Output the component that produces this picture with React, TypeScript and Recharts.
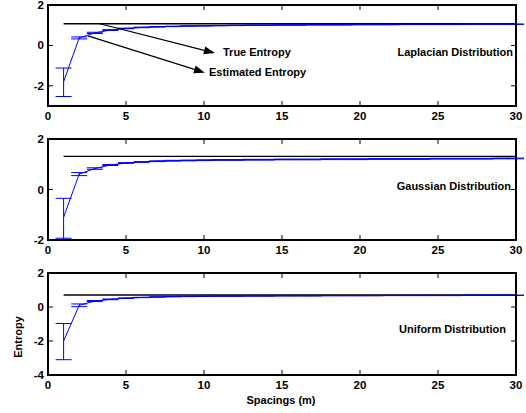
import React from 'react';
import { LineChart, Line, XAxis, YAxis, ErrorBar, ReferenceLine } from 'recharts';

const spacings = [1, 2, 3, 4, 5, 6, 7, 8, 9, 10, 11, 12, 13, 14, 15, 16, 17, 18, 19, 20, 21, 22, 23, 24, 25, 26, 27, 28, 29, 30];
const xTicks = [0, 5, 10, 15, 20, 25, 30];

// Laplacian
const lapTrue = 1.07;
const lapEst = [-1.8, 0.37, 0.62, 0.76, 0.84, 0.89, 0.92, 0.94, 0.96, 0.97, 0.98, 0.99, 1.0, 1.0, 1.01, 1.01, 1.02, 1.02, 1.02, 1.03, 1.03, 1.03, 1.04, 1.04, 1.04, 1.04, 1.05, 1.05, 1.05, 1.05];
const lapErrLow = [0.73, 0.05, 0.03, 0.02, 0.015, 0.015, 0.01, 0.01, 0.01, 0.01, 0.01, 0.01, 0.01, 0.01, 0.01, 0.01, 0.01, 0.01, 0.01, 0.01, 0.01, 0.01, 0.01, 0.01, 0.01, 0.01, 0.01, 0.01, 0.01, 0.01];
const lapErrHigh = [0.68, 0.05, 0.03, 0.02, 0.015, 0.015, 0.01, 0.01, 0.01, 0.01, 0.01, 0.01, 0.01, 0.01, 0.01, 0.01, 0.01, 0.01, 0.01, 0.01, 0.01, 0.01, 0.01, 0.01, 0.01, 0.01, 0.01, 0.01, 0.01, 0.01];

// Gaussian
const gauTrue = 1.31;
const gauEst = [-1.1, 0.61, 0.83, 0.97, 1.05, 1.09, 1.12, 1.14, 1.15, 1.16, 1.17, 1.17, 1.18, 1.18, 1.19, 1.19, 1.19, 1.2, 1.2, 1.2, 1.21, 1.21, 1.21, 1.21, 1.22, 1.22, 1.22, 1.22, 1.23, 1.23];
const gauErrLow = [0.83, 0.06, 0.03, 0.02, 0.015, 0.015, 0.015, 0.015, 0.015, 0.015, 0.015, 0.015, 0.015, 0.015, 0.015, 0.015, 0.015, 0.015, 0.015, 0.015, 0.015, 0.015, 0.015, 0.015, 0.015, 0.015, 0.015, 0.015, 0.015, 0.015];
const gauErrHigh = [0.75, 0.06, 0.03, 0.02, 0.015, 0.015, 0.015, 0.015, 0.015, 0.015, 0.015, 0.015, 0.015, 0.015, 0.015, 0.015, 0.015, 0.015, 0.015, 0.015, 0.015, 0.015, 0.015, 0.015, 0.015, 0.015, 0.015, 0.015, 0.015, 0.015];

// Uniform
const uniTrue = 0.71;
const uniEst = [-2.0, 0.1, 0.35, 0.45, 0.52, 0.56, 0.59, 0.61, 0.62, 0.63, 0.64, 0.64, 0.65, 0.65, 0.66, 0.66, 0.66, 0.67, 0.67, 0.67, 0.67, 0.68, 0.68, 0.68, 0.68, 0.68, 0.69, 0.69, 0.69, 0.69];
const uniErrLow = [1.1, 0.08, 0.03, 0.02, 0.015, 0.01, 0.01, 0.01, 0.01, 0.01, 0.01, 0.01, 0.01, 0.01, 0.01, 0.01, 0.01, 0.01, 0.01, 0.01, 0.01, 0.01, 0.01, 0.01, 0.01, 0.01, 0.01, 0.01, 0.01, 0.01];
const uniErrHigh = [1.03, 0.08, 0.03, 0.02, 0.015, 0.01, 0.01, 0.01, 0.01, 0.01, 0.01, 0.01, 0.01, 0.01, 0.01, 0.01, 0.01, 0.01, 0.01, 0.01, 0.01, 0.01, 0.01, 0.01, 0.01, 0.01, 0.01, 0.01, 0.01, 0.01];

const build = (truth: number, est: number[], lo: number[], hi: number[]) =>
  spacings.map((m, i) => ({ m, truth, est: est[i], err: [lo[i], hi[i]] }));

const FONT = '"Liberation Sans", Arial, sans-serif';
const BLUE = '#0000ff';
const axisLine = { stroke: '#000', strokeWidth: 2 };
const tickLine = { stroke: '#000', strokeWidth: 1 };
const tickFont = { fill: '#000', fontSize: 11.5, fontWeight: 700, fontFamily: FONT };
const PLOT_LEFT = 48;
const PLOT_W = 468;
const TICK_PX = 5;

const Arrow = (props: any) => {
  const { x1, y1, x2, y2 } = props;
  const a = Math.atan2(y2 - y1, x2 - x1);
  const len = 11;
  const w = 4;
  const bx = x2 - len * Math.cos(a);
  const by = y2 - len * Math.sin(a);
  const px = -Math.sin(a) * w;
  const py = Math.cos(a) * w;
  return (
    <g>
      <line x1={x1} y1={y1} x2={bx} y2={by} stroke="#000" strokeWidth={1.2} />
      <polygon points={`${x2},${y2} ${bx + px},${by + py} ${bx - px},${by - py}`} fill="#000" />
    </g>
  );
};

// frame of the plot area, drawn from the segment's two corners
const Frame = (props: any) => {
  const { x1, y1, x2, y2 } = props;
  return (
    <rect
      x={Math.min(x1, x2)}
      y={Math.min(y1, y2)}
      width={Math.abs(x2 - x1)}
      height={Math.abs(y2 - y1)}
      fill="none"
      stroke="#000"
      strokeWidth={2}
    />
  );
};

type PanelProps = {
  top: number;
  plotHeight: number;
  data: any[];
  domain: [number, number];
  yTicks: number[];
  arrows?: boolean;
};

function Panel({ top, plotHeight, data, domain, yTicks, arrows }: PanelProps) {
  const [yMin, yMax] = domain;
  const dy = ((yMax - yMin) * TICK_PX) / plotHeight;
  const dx = (30 * TICK_PX) / PLOT_W;
  return (
    <>
      <div style={{ position: 'absolute', left: 0, top: top - 5 }}>
        <LineChart width={526} height={plotHeight + 5 + 26} data={data} margin={{ top: 5, right: 10, bottom: 0, left: 8 }}>
          <XAxis dataKey="m" type="number" domain={[0, 30]} ticks={xTicks} height={26} tickSize={-5} tickMargin={11} axisLine={axisLine} tickLine={tickLine} tick={tickFont} interval={0} />
          <YAxis type="number" domain={domain} ticks={yTicks} width={40} tickSize={-5} tickMargin={9} axisLine={axisLine} tickLine={tickLine} tick={tickFont} interval={0} />
          <ReferenceLine segment={[{ x: 0, y: yMax }, { x: 30, y: yMin }]} shape={Frame} ifOverflow="visible" />
          {/* inward ticks on the top and right edges */}
          {xTicks.slice(1, -1).map((t) => (
            <ReferenceLine key={`tx${t}`} segment={[{ x: t, y: yMax }, { x: t, y: yMax - dy }]} stroke="#000" strokeWidth={1} ifOverflow="visible" />
          ))}
          {yTicks.filter((t) => t > yMin && t < yMax).map((t) => (
            <ReferenceLine key={`ty${t}`} segment={[{ x: 30, y: t }, { x: 30 - dx, y: t }]} stroke="#000" strokeWidth={1} ifOverflow="visible" />
          ))}
          <Line dataKey="truth" stroke="#000" strokeWidth={1.4} dot={false} isAnimationActive={false} />
          <Line dataKey="est" stroke={BLUE} strokeWidth={1} dot={false} isAnimationActive={false}>
            <ErrorBar dataKey="err" direction="y" width={8} stroke={BLUE} strokeWidth={1} isAnimationActive={false} />
          </Line>
          {arrows && (
            <ReferenceLine segment={[{ x: 3.33, y: 1.07 }, { x: 10.7, y: -0.38 }]} shape={Arrow} ifOverflow="visible" />
          )}
          {arrows && (
            <ReferenceLine segment={[{ x: 2.56, y: 0.47 }, { x: 10.06, y: -1.35 }]} shape={Arrow} ifOverflow="visible" />
          )}
        </LineChart>
      </div>
      {/* plot box */}
      <div
        style={{
          position: 'absolute',
          left: PLOT_LEFT - 1,
          top: top - 1,
          width: PLOT_W + 2,
          height: plotHeight + 2,
          border: '2px solid #000',
          boxSizing: 'border-box',
          pointerEvents: 'none',
        }}
      />
    </>
  );
}

const textStyle: React.CSSProperties = {
  position: 'absolute',
  fontFamily: FONT,
  fontWeight: 700,
  fontSize: 11,
  color: '#000',
  whiteSpace: 'nowrap',
  lineHeight: '13px',
};

export default function App() {
  return (
    <div style={{ position: 'fixed', left: 0, top: 0, width: 526, height: 413, background: '#fff', overflow: 'hidden' }}>
      <Panel top={5} plotHeight={101} data={build(lapTrue, lapEst, lapErrLow, lapErrHigh)} domain={[-3, 2]} yTicks={[-2, 0, 2]} arrows />
      <Panel top={139} plotHeight={101} data={build(gauTrue, gauEst, gauErrLow, gauErrHigh)} domain={[-2, 2]} yTicks={[-2, 0, 2]} />
      <Panel top={273} plotHeight={102} data={build(uniTrue, uniEst, uniErrLow, uniErrHigh)} domain={[-4, 2]} yTicks={[-4, -2, 0, 2]} />

      <div style={{ ...textStyle, left: 223, top: 46 }}>True Entropy</div>
      <div style={{ ...textStyle, left: 209, top: 66 }}>Estimated Entropy</div>
      <div style={{ ...textStyle, right: 13, top: 46 }}>Laplacian Distribution</div>
      <div style={{ ...textStyle, right: 15, top: 180 }}>Gaussian Distribution</div>
      <div style={{ ...textStyle, left: 399, top: 323 }}>Uniform Distribution</div>
      <div style={{ ...textStyle, left: 281, top: 400, transform: 'translate(-50%, -50%)' }}>Spacings (m)</div>
      <div style={{ ...textStyle, left: 18, top: 337, transform: 'translate(-50%, -50%) rotate(-90deg)' }}>Entropy</div>
    </div>
  );
}
